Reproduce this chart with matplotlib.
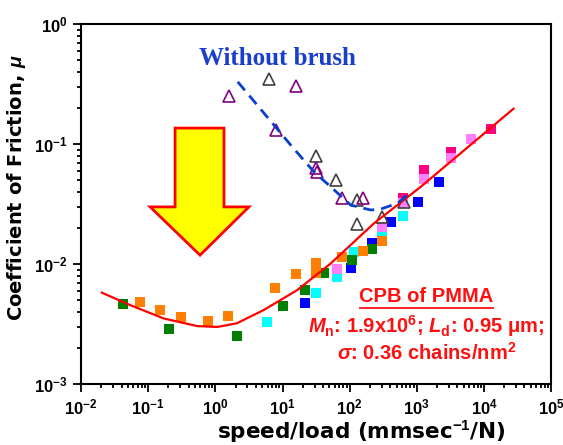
import matplotlib
matplotlib.use("Agg")
import matplotlib.pyplot as plt
import numpy as np
from matplotlib.patches import Polygon
from matplotlib.ticker import FuncFormatter, LogLocator

plt.rcParams['font.family'] = ['Liberation Sans', 'DejaVu Sans']
plt.rcParams['mathtext.fontset'] = 'custom'
plt.rcParams['mathtext.rm'] = 'Liberation Sans'
plt.rcParams['mathtext.bf'] = 'Liberation Sans:bold'
plt.rcParams['mathtext.it'] = 'Liberation Sans:italic:bold'

# brush data (squares), one list per colour
cyan_x = [5.9, 31.1, 64, 116, 307, 632]
cyan_y = [0.0033, 0.0057, 0.00784, 0.0127, 0.018, 0.0251]
blue_x = [21.3, 104, 213, 419, 1047, 2130]
blue_y = [0.00476, 0.0092, 0.0149, 0.0224, 0.033, 0.0485]
green_x = [0.042, 0.204, 2.11, 10.2, 21.3, 41.4, 107, 213]
green_y = [0.00464, 0.00286, 0.00251, 0.00447, 0.00607, 0.00847, 0.0109, 0.01325]
orange_x = [0.0767, 0.151, 0.311, 0.767, 1.56, 7.67, 15.6, 31.1, 31.1, 77.8, 156, 307]
orange_y = [0.00485, 0.00416, 0.00364, 0.00337, 0.00371, 0.00635, 0.0082,
            0.0102, 0.0084, 0.01137, 0.0129, 0.0156]
magenta_x = [632, 1260, 3190, 12600]
magenta_y = [0.0355, 0.0607, 0.0858, 0.134]
pink_x = [64, 307, 632, 1260, 3190, 6400]
pink_y = [0.00903, 0.0205, 0.032, 0.0508, 0.076, 0.1107]

# without brush (open triangles)
purple_x = [1.58, 7.87, 15.6, 31.1, 33, 76, 160]
purple_y = [0.251, 0.131, 0.304, 0.063, 0.058, 0.0353, 0.0353]
gray_x = [6.25, 31.1, 61.8, 127, 127, 307, 646]
gray_y = [0.346, 0.0799, 0.0501, 0.0341, 0.0216, 0.0245, 0.0327]

# guide lines
fit_x = [0.0204, 0.0537, 0.170, 0.537, 1.07, 2.09, 5.25, 16.6, 52.5, 229, 1148, 27500]
fit_y = [0.00577, 0.00455, 0.00352, 0.00304, 0.00299, 0.00321, 0.00414,
         0.00607, 0.01014, 0.0218, 0.0441, 0.197]
dash_x = [2.15, 13.2, 29.3, 52, 103.5, 206, 290, 515, 724]
dash_y = [0.330, 0.0982, 0.0587, 0.0441, 0.0310, 0.0282, 0.0287, 0.0321, 0.0376]

fig = plt.figure(figsize=(5.63, 4.45), dpi=100)
ax = fig.add_axes([0.144, 0.137, 0.835, 0.809])
ax.set_xscale('log')
ax.set_yscale('log')
ax.set_xlim(1e-2, 1e5)
ax.set_ylim(1e-3, 1)

sq = dict(marker='s', ms=7.5, ls='none', mew=0)
ax.plot(cyan_x, cyan_y, color='#00ffff', **sq)
ax.plot(blue_x, blue_y, color='#0000ff', **sq)
ax.plot(green_x, green_y, color='#007f00', **sq)
ax.plot(orange_x, orange_y, color='#ff8000', **sq)
ax.plot(magenta_x, magenta_y, color='#ff0080', **sq)
ax.plot(pink_x, pink_y, color='#ff80ff', **sq)

tri = dict(marker='^', ms=9, ls='none', mfc='none', mew=1.2)
ax.plot(gray_x, gray_y, mec='#404040', **tri)
ax.plot(purple_x, purple_y, mec='#800080', **tri)

ax.plot(fit_x, fit_y, color='#ff0000', lw=1.6, zorder=4)
ax.plot(dash_x, dash_y, color='#0a3fcf', lw=2, dashes=(4, 2.5), zorder=4)

# big yellow arrow (axes fractions)
arrow = Polygon([(0.200, 0.711), (0.304, 0.711), (0.304, 0.492), (0.357, 0.492),
                 (0.253, 0.358), (0.147, 0.492), (0.200, 0.492)],
                closed=True, transform=ax.transAxes, facecolor='#ffff00',
                edgecolor='#ff0000', lw=2, zorder=5)
ax.add_patch(arrow)

ax.text(0.418, 0.905, 'Without brush', transform=ax.transAxes, ha='center', va='center',
        color='#1a3fcc', fontsize=18, fontweight='bold', family='Liberation Serif')

red = '#ff1010'
ax.text(0.735, 0.243, 'CPB of PMMA', transform=ax.transAxes, ha='center', va='center',
        color=red, fontsize=14.5, fontweight='bold')
ax.plot([0.594, 0.877], [0.21, 0.21], transform=ax.transAxes, color=red, lw=1.3)
ax.text(0.733, 0.162, r'$\mathit{M}_\mathbf{n}$: 1.9x10$^\mathbf{6}$; $\mathit{L}_\mathbf{d}$: 0.95 μm;',
        transform=ax.transAxes, ha='center', va='center', color=red, fontsize=14.5,
        fontweight='bold')
ax.text(0.736, 0.088, r'$\mathit{σ}$: 0.36 chains/nm$^\mathbf{2}$', transform=ax.transAxes,
        ha='center', va='center', color=red, fontsize=14.5, fontweight='bold')

ax.xaxis.set_major_locator(LogLocator(base=10, numticks=10))
ax.xaxis.set_minor_locator(LogLocator(base=10, subs=np.arange(2, 10), numticks=20))
ax.yaxis.set_major_locator(LogLocator(base=10, numticks=10))
ax.yaxis.set_minor_locator(LogLocator(base=10, subs=np.arange(2, 10), numticks=20))
fmt = FuncFormatter(lambda v, p: r'$\mathbf{10^{%d}}$' % int(round(np.log10(v))))
ax.xaxis.set_major_formatter(fmt)
ax.yaxis.set_major_formatter(fmt)
ax.tick_params(which='both', direction='out', top=False, right=False, width=1.3,
               labelsize=12, color='black')
ax.tick_params(which='major', length=6)
ax.tick_params(which='minor', length=3)
ax.spines[:].set_linewidth(1.5)

ax.set_xlabel(r'speed/load (mmsec$^\mathbf{-1}$/N)', fontsize=15.5, fontweight='bold',
              family='DejaVu Sans')
ax.xaxis.set_label_coords(0.596, -0.094)
ax.set_ylabel(r'Coefficient of Friction, $\mathit{\mu}$', fontsize=14, fontweight='bold',
              family='DejaVu Sans')
ax.yaxis.set_label_coords(-0.113, 0.547)

fig.savefig('out.png', dpi=100)
